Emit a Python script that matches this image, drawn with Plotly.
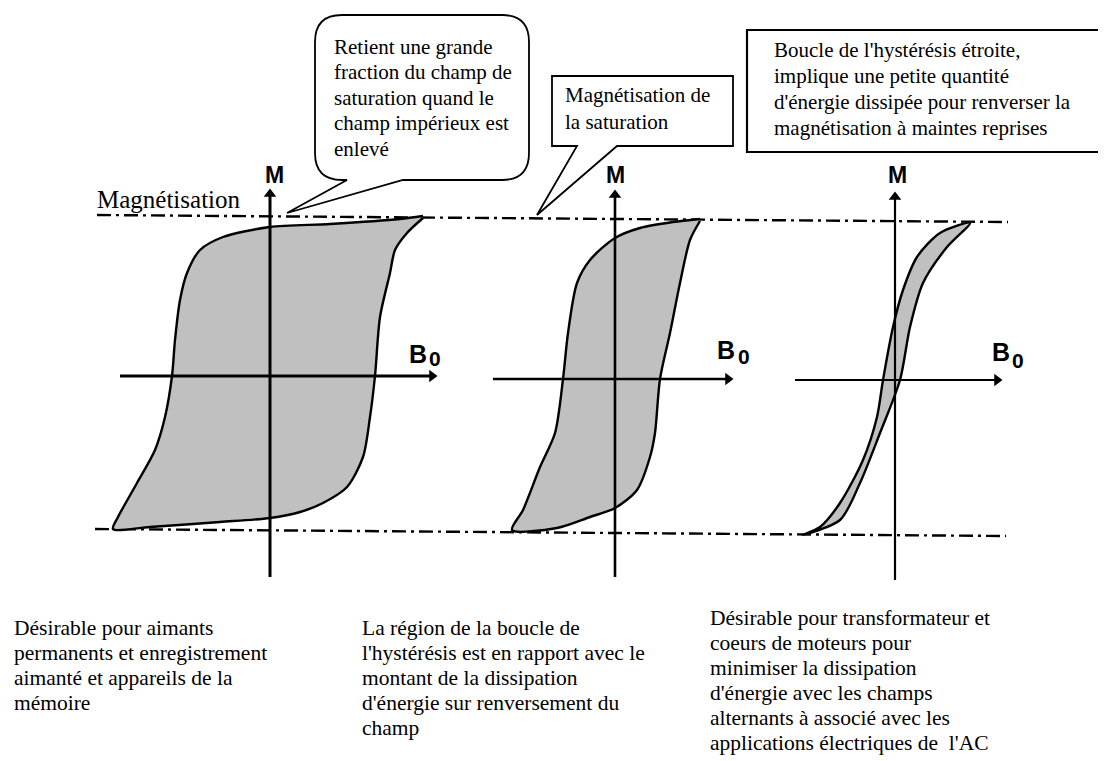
import plotly.graph_objects as go

W, H = 1106, 761
PAGE_OFF = 8  # browser default body margin; ranges shifted so coordinates equal page pixels

# ---------------- data (local drawing units: B right, M up) -------------
loop_names = ["aimant permanent", "boucle moyenne", "boucle étroite"]

loop1_up_B = [153, 130, 60, 0, -47, -70, -83, -90, -95, -98, -105, -115, -133, -152, -157]
loop1_up_M = [160, 157, 152, 149, 139, 126, 103, 76, 36, 0, -41, -74, -107, -141, -153]
loop1_low_B = [-157, -120, -50, 0, 30, 53, 77, 93, 100, 105, 110, 120, 125, 137, 153]
loop1_low_M = [-153, -151, -146, -142, -136, -127, -111, -81, -41, 0, 59, 103, 126, 143, 158]

loop2_up_B = [85, 58, 25, 0, -25, -38, -47, -52, -60, -75, -92, -103]
loop2_up_M = [160, 157, 151, 141, 119, 96, 46, 0, -54, -88, -131, -151]
loop2_low_B = [-103, -58, -25, 0, 22, 35, 40, 45, 55, 65, 75, 85]
loop2_low_M = [-152, -149, -138, -129, -111, -78, -54, 0, 46, 96, 139, 158]

loop3_up_B = [75, 45, 22, 8, -2, -12, -18, -32, -55, -75, -92]
loop3_up_M = [157, 147, 123, 90, 53, 0, -37, -80, -123, -147, -155]
loop3_low_B = [-92, -55, -35, -15, 5, 15, 28, 52, 75]
loop3_low_M = [-155, -140, -103, -53, 0, 53, 97, 133, 157]

# text content
label_M = "M"
label_B = "B"
label_sub = "0"
label_magn = "Magnétisation"
bubble_lines = ["Retient une grande", "fraction du champ de", "saturation quand le",
                "champ impérieux est", "enlevé"]
sat_lines = ["Magnétisation de", "la saturation"]
narrow_lines = ["Boucle de l'hystérésis étroite,", "implique une petite quantité",
                "d'énergie dissipée pour renverser la", "magnétisation à maintes reprises"]
bottom1 = ["Désirable pour aimants", "permanents et enregistrement",
           "aimanté et appareils de la", "mémoire"]
bottom2 = ["La région de la boucle de", "l'hystérésis est en rapport avec le",
           "montant de la dissipation", "d'énergie sur renversement du", "champ"]
bottom3 = ["Désirable pour transformateur et", "coeurs de moteurs pour",
           "minimiser la dissipation", "d'énergie avec les champs",
           "alternants à associé avec les", "applications électriques de  l'AC"]

# ---------------- layout constants (pixel positions on the page) ----------------
origins = [(270, 376), (615, 379), (895, 380)]
b_axis = [(120, 437), (493, 733), (795, 1002)]
m_axis = [(577, 189), (577, 190), (580, 192)]
axis_w = [3, 2.6, 2.2]
m_label_pos = [(274, 175), (615, 175), (897, 175)]
b_label_pos = [(418, 354), (726, 350), (1001, 352)]
sub_label_pos = [(435, 358), (744, 356), (1018, 360)]

SERIF = "Liberation Serif, Times New Roman, serif"
SANS = "Liberation Sans, Arial, sans-serif"

fig = go.Figure()

# saturation dash-dot lines
for (x0, y0, x1, y1) in [(97, 215, 1008, 222), (95, 529, 1006, 536)]:
    fig.add_trace(go.Scatter(x=[x0, x1], y=[y0, y1], mode="lines",
                             line=dict(color="black", width=2.4, dash="14px,5px,3px,5px"),
                             hoverinfo="skip", showlegend=False))

loops = [(loop1_up_B, loop1_up_M, loop1_low_B, loop1_low_M),
         (loop2_up_B, loop2_up_M, loop2_low_B, loop2_low_M),
         (loop3_up_B, loop3_up_M, loop3_low_B, loop3_low_M)]

for name, (cx, cy), (ub, um, lb, lm) in zip(loop_names, origins, loops):
    bs = ub + lb[1:]
    ms = um + lm[1:]
    fig.add_trace(go.Scatter(
        x=[cx + b for b in bs], y=[cy - m for m in ms], mode="lines", name=name,
        fill="toself", fillcolor="#c0c0c0",
        line=dict(color="black", width=2.4, shape="spline", smoothing=0.8),
        hoverinfo="skip", showlegend=False))

# axes with solid triangular arrowheads
for i, (cx, cy) in enumerate(origins):
    bx0, bx1 = b_axis[i]
    my0, my1 = m_axis[i]
    fig.add_trace(go.Scatter(x=[bx0, bx1 - 6], y=[cy, cy], mode="lines",
                             line=dict(color="black", width=axis_w[i]),
                             hoverinfo="skip", showlegend=False))
    fig.add_trace(go.Scatter(x=[cx, cx], y=[my0, my1 + 6], mode="lines",
                             line=dict(color="black", width=axis_w[i]),
                             hoverinfo="skip", showlegend=False))
    fig.add_trace(go.Scatter(x=[bx1 - 5, cx], y=[cy, my1 + 5], mode="markers",
                             marker=dict(symbol=["triangle-right", "triangle-up"], size=11,
                                         color="black", line=dict(width=0)),
                             hoverinfo="skip", showlegend=False))

annotations = []
for i in range(3):
    mx, myy = m_label_pos[i]
    annotations.append(dict(x=mx, y=myy, xref="x", yref="y", text="<b>" + label_M + "</b>",
                            showarrow=False, font=dict(family=SANS, size=23, color="black")))
    bx, byy = b_label_pos[i]
    annotations.append(dict(x=bx, y=byy, xref="x", yref="y", text="<b>" + label_B + "</b>",
                            showarrow=False, font=dict(family=SANS, size=25, color="black")))
    sx, sy = sub_label_pos[i]
    annotations.append(dict(x=sx, y=sy, xref="x", yref="y", text="<b>" + label_sub + "</b>",
                            showarrow=False, font=dict(family=SANS, size=21, color="black")))

annotations.append(dict(x=95, y=199, xref="x", yref="y", text=label_magn, showarrow=False,
                        xanchor="left", yanchor="middle",
                        font=dict(family=SERIF, size=25, color="black")))


def add_lines(lines, x, y0, dy, size=21):
    for k, t in enumerate(lines):
        annotations.append(dict(x=x, y=y0 + k * dy, xref="x", yref="y", text=t, showarrow=False,
                                xanchor="left", yanchor="middle",
                                font=dict(family=SERIF, size=size, color="black")))


add_lines(bubble_lines, 332, 47, 25.4)
add_lines(sat_lines, 563, 95, 27)
add_lines(narrow_lines, 772, 50, 26)
add_lines(bottom1, 12, 628, 25, 21.5)
add_lines(bottom2, 360, 628, 25, 21.5)
add_lines(bottom3, 708, 618, 25, 21.5)

shapes = []
# rounded speech bubble
bubble_path = ("M 342 15 L 502 15 Q 529 15 529 42 L 529 153 Q 529 180 502 180 "
               "L 403 180 L 287 213 L 347 180 L 342 180 Q 315 180 315 153 L 315 42 Q 315 15 342 15 Z")
shapes.append(dict(type="path", path=bubble_path, xref="x", yref="y",
                   line=dict(color="black", width=1.8), fillcolor="white"))
sat_path = "M 552 76 L 733 76 L 733 146 L 617 146 L 537 215 L 577 146 L 552 146 Z"
shapes.append(dict(type="path", path=sat_path, xref="x", yref="y",
                   line=dict(color="black", width=1.8), fillcolor="white"))
shapes.append(dict(type="rect", x0=747, y0=30, x1=1103, y1=152, xref="x", yref="y",
                   line=dict(color="black", width=2.2), fillcolor="white"))

fig.update_layout(
    width=W, height=H, margin=dict(l=0, r=0, t=0, b=0),
    paper_bgcolor="white", plot_bgcolor="white",
    xaxis=dict(range=[PAGE_OFF, W + PAGE_OFF], visible=False, fixedrange=True),
    yaxis=dict(range=[H + PAGE_OFF, PAGE_OFF], visible=False, fixedrange=True),
    annotations=annotations, shapes=shapes, showlegend=False,
)

fig.write_html("out.html")
